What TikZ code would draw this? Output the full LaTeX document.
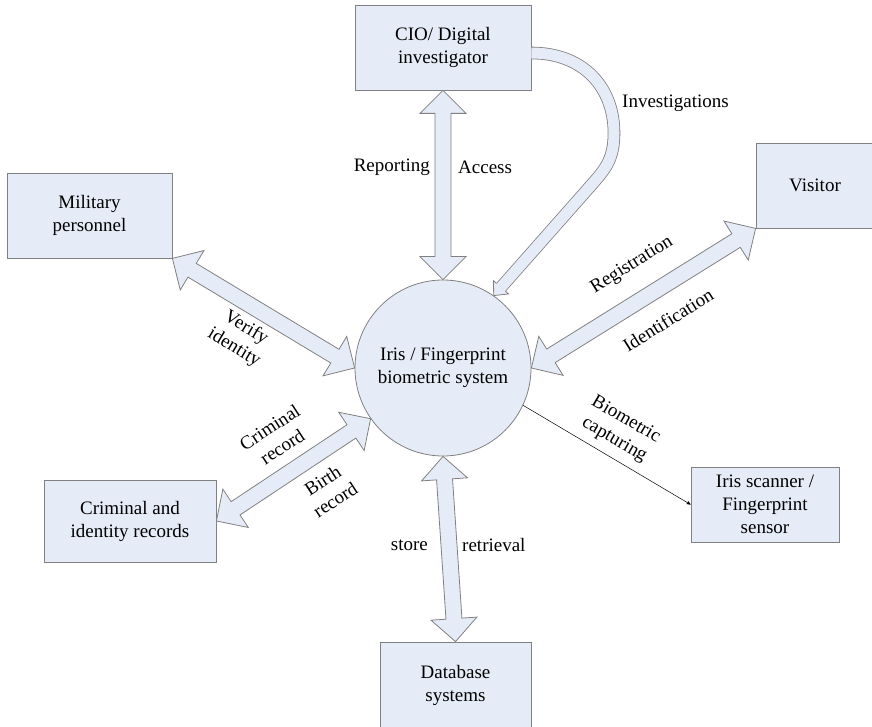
\documentclass[tikz,border=0pt]{standalone}
\usepackage{fontspec}
\setmainfont{LiberationSerif}[Extension=.ttf, UprightFont=*-Regular, BoldFont=*-Bold]
\usepackage{tikz}
\usetikzlibrary{arrows,calc,positioning}

\definecolor{boxfill}{RGB}{230,236,247}
\definecolor{boxline}{RGB}{128,128,128}

% sizes of the hollow two-way arrows
\def\headlen{23pt}
\def\headwd{23pt}
\def\shaftwd{8pt}

% hollow two-way block arrow between two points
\newcommand{\twoway}[2]{%
  \path (#1) coordinate (ta) (#2) coordinate (tb);
  \path ($(ta)!\headlen!(tb)$) coordinate (ha) ($(tb)!\headlen!(ta)$) coordinate (hb);
  \filldraw[fat arrow] (ta) -- ($(ha)!\headwd!90:(tb)$) -- ($(ha)!\shaftwd!90:(tb)$)
    -- ($(hb)!\shaftwd!-90:(ta)$) -- ($(hb)!\headwd!-90:(ta)$) -- (tb)
    -- ($(hb)!\headwd!90:(ta)$) -- ($(hb)!\shaftwd!90:(ta)$)
    -- ($(ha)!\shaftwd!-90:(tb)$) -- ($(ha)!\headwd!-90:(tb)$) -- cycle;
}

\begin{document}
\begin{tikzpicture}[x=1pt, y=-1pt, >=stealth', font=\fontsize{19}{23}\selectfont,
    box/.style={draw=boxline, fill=boxfill, line width=0.8pt, align=center, inner sep=0pt},
    fat arrow/.style={draw=boxline, fill=boxfill, line width=0.8pt, line join=miter},
    lbl/.style={align=center, inner sep=0pt}]
    \useasboundingbox (0,0) rectangle (872,727);

    \node[box, minimum width=176pt, minimum height=85pt] (cio)      at (443,47.5)   {CIO/ Digital\\investigator};
    \node[box, minimum width=165pt, minimum height=85pt] (military) at (89.5,215.5) {Military\\personnel};
    \node[box, minimum width=118pt, minimum height=85pt] (visitor)  at (815,185.5)  {Visitor};
    \node[box, minimum width=148pt, minimum height=75pt] (scanner)  at (765,504.5)  {Iris scanner /\\Fingerprint\\sensor};
    \node[box, minimum width=172pt, minimum height=82pt] (records)  at (130,521)    {Criminal and\\identity records};
    \node[box, minimum width=151pt, minimum height=87pt] (database) at (455.5,685.5) {Database\\systems};
    \node[box, circle, minimum size=176pt]               (core)     at (443,368)    {Iris / Fingerprint\\biometric system};

    \twoway{cio.south}{core.north}
    \twoway{database.north}{core.south}
    \twoway{military.south east}{core.west}
    \twoway{visitor.south west}{core.east}
    \twoway{core.215}{records.east}

    % investigations: bent hollow arrow from the investigator
    \coordinate (invstart) at ($(cio.east)+(0,5.5)$);
    \coordinate (bendtop)  at (614,133);
    \coordinate (bendlow)  at (594,182);
    \path ($(core.55)!11pt!(bendlow)$) coordinate (invbase);
    \draw[draw=boxline, line width=0.8pt, double=boxfill, double distance=11pt]
        (invstart) .. controls (584,53) and (614,88) .. (bendtop)
        .. controls (614,158) and (606,168) .. (bendlow) -- (invbase);
    \filldraw[fat arrow] ($(invbase)!5.9pt!90:(bendlow)$) -- ($(invbase)!10pt!90:(bendlow)$)
        -- (core.55) -- ($(invbase)!10pt!-90:(bendlow)$) -- ($(invbase)!5.9pt!-90:(bendlow)$);

    \draw[->, line width=0.5pt] (core.-25) -- (scanner.west);

    \node[lbl, anchor=east] (reporting) at (430,167) {Reporting};
    \node[lbl, anchor=west] (access)    at (458,167) {Access};
    \node[lbl, anchor=west] (invest)    at (622,103) {Investigations};
    \node[lbl, anchor=east] (store)     at (428,545) {store};
    \node[lbl, anchor=west] (retrieval) at (462,545) {retrieval};
    \node[lbl, rotate=-31] (verify)     at (240,338) {Verify\\identity};
    \node[lbl, rotate=33]  (criminal)   at (276,437) {Criminal\\record};
    \node[lbl, rotate=33]  (birth)      at (329,490) {Birth\\record};
    \node[lbl, rotate=32]  (register)   at (632,265) {Registration};
    \node[lbl, rotate=32]  (identify)   at (668,320) {Identification};
    \node[lbl, rotate=-30] (capture)    at (620,430) {Biometric\\capturing};
\end{tikzpicture}
\end{document}
